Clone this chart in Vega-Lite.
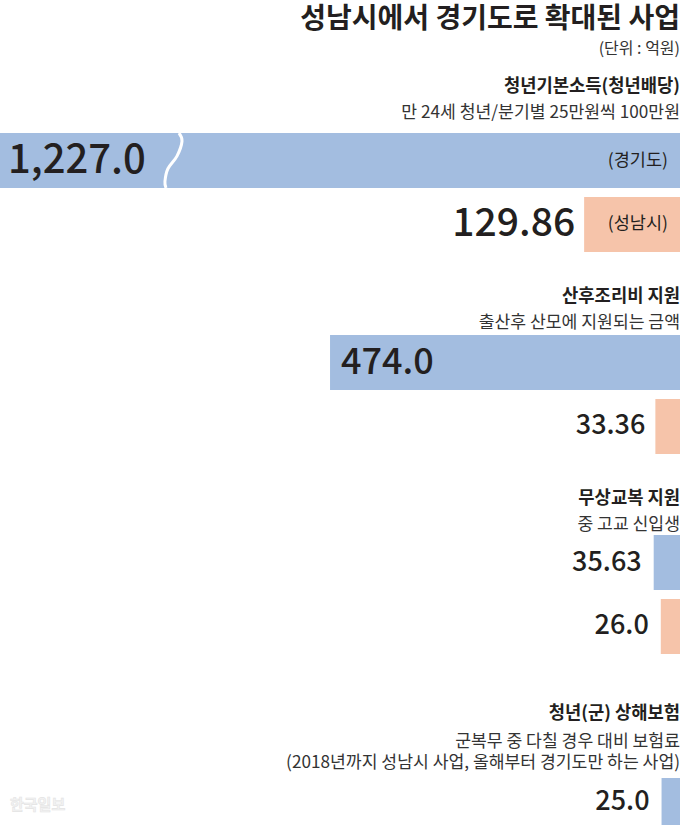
{
  "$schema": "https://vega.github.io/schema/vega-lite/v6.json",
  "padding": {"left": 0, "right": 0, "top": 6, "bottom": 0},
  "background": "white",
  "config": {
    "view": {"stroke": null},
    "font": "Noto Sans CJK KR",
    "title": {"font": "Noto Sans CJK KR", "subtitleFont": "Noto Sans CJK KR", "color": "#231f20", "subtitleColor": "#333333"}
  },
  "title": {
    "text": "성남시에서 경기도로 확대된 사업",
    "subtitle": "(단위 : 억원)",
    "anchor": "end",
    "fontSize": 28,
    "fontWeight": "bold",
    "subtitleFontSize": 16,
    "subtitlePadding": 7,
    "offset": 21
  },
  "datasets": {
    "bars": [
      {"section": "청년기본소득", "region": "경기도", "value": 1227.0, "label": "1,227.0", "tag": "(경기도)"},
      {"section": "청년기본소득", "region": "성남시", "value": 129.86, "label": "129.86", "tag": "(성남시)"},
      {"section": "산후조리비", "region": "경기도", "value": 474.0, "label": "474.0"},
      {"section": "산후조리비", "region": "성남시", "value": 33.36, "label": "33.36"},
      {"section": "무상교복", "region": "경기도", "value": 35.63, "label": "35.63"},
      {"section": "무상교복", "region": "성남시", "value": 26.0, "label": "26.0"},
      {"section": "상해보험", "region": "경기도", "value": 25.0, "label": "25.0"}
    ],
    "brk": [
      {"section": "청년기본소득", "order": 1, "bx": 678.6, "by": 1.0},
      {"section": "청년기본소득", "order": 2, "bx": 674.5, "by": 0.85},
      {"section": "청년기본소득", "order": 3, "bx": 681.3, "by": 0.58},
      {"section": "청년기본소득", "order": 4, "bx": 693.6, "by": 0.35},
      {"section": "청년기본소득", "order": 5, "bx": 697.6, "by": 0.12},
      {"section": "청년기본소득", "order": 6, "bx": 696.2, "by": 0.0}
    ]
  },
  "spacing": 51,
  "vconcat": [
    {
      "spacing": 36,
      "vconcat": [
        {
          "width": 680, "height": 119,
          "title": {"text": "청년기본소득(청년배당)", "subtitle": "만 24세 청년/분기별 25만원씩 100만원", "anchor": "end", "fontSize": 17.7, "fontWeight": "bold", "subtitleFontSize": 17.2, "subtitlePadding": 8, "offset": 6},
          "resolve": {"scale": {"y": "independent"}},
          "layer": [
            {
              "data": {"name": "bars"},
              "transform": [{"filter": "datum.section === '청년기본소득'"}],
              "encoding": {"y": {"field": "region", "type": "nominal", "sort": ["경기도", "성남시"], "axis": null, "scale": {"paddingInner": 0.14, "paddingOuter": 0}}},
              "layer": [
                {"mark": {"type": "bar"}, "encoding": {
                  "x": {"field": "value", "type": "quantitative", "scale": {"domain": [0, 921], "reverse": true, "clamp": true, "nice": false, "zero": true}, "axis": null},
                  "x2": {"datum": 0},
                  "color": {"field": "region", "type": "nominal", "scale": {"domain": ["경기도", "성남시"], "range": ["#a3bde0", "#f6c4aa"]}, "legend": null}}},
                {"transform": [{"filter": "datum.value > 300"}], "mark": {"type": "text", "align": "left", "dx": 8, "baseline": "middle", "fontWeight": 500, "fontSize": 40, "color": "#231f20"},
                  "encoding": {"x": {"field": "value", "type": "quantitative"}, "text": {"field": "label"}}},
                {"transform": [{"filter": "datum.value <= 300"}], "mark": {"type": "text", "align": "right", "dx": -9, "baseline": "middle", "fontWeight": 500, "fontSize": 39, "color": "#231f20"},
                  "encoding": {"x": {"field": "value", "type": "quantitative"}, "text": {"field": "label"}}},
                {"transform": [{"filter": "datum.tag"}], "mark": {"type": "text", "align": "right", "dx": -12, "baseline": "middle", "fontSize": 17.5, "color": "#231f20"},
                  "encoding": {"x": {"datum": 0}, "text": {"field": "tag"}}}
              ]
            },
            {"data": {"name": "brk"}, "mark": {"type": "line", "color": "white", "strokeWidth": 3, "interpolate": "cardinal"},
              "encoding": {
                "x": {"field": "bx", "type": "quantitative"},
                "y": {"field": "by", "type": "quantitative", "scale": {"domain": [-1.1636, 1], "nice": false, "zero": false}, "axis": null},
                "order": {"field": "order", "type": "quantitative"}}}
          ]
        },
        {
          "width": 680, "height": 119,
          "title": {"text": "산후조리비 지원", "subtitle": "출산후 산모에 지원되는 금액", "anchor": "end", "fontSize": 17.7, "fontWeight": "bold", "subtitleFontSize": 17.2, "subtitlePadding": 8, "offset": 4},
          "data": {"name": "bars"},
          "transform": [{"filter": "datum.section === '산후조리비'"}],
          "encoding": {"y": {"field": "region", "type": "nominal", "sort": ["경기도", "성남시"], "axis": null, "scale": {"paddingInner": 0.14, "paddingOuter": 0}}},
          "layer": [
            {"mark": {"type": "bar"}, "encoding": {
              "x": {"field": "value", "type": "quantitative", "scale": {"domain": [0, 921], "reverse": true, "clamp": true, "nice": false, "zero": true}, "axis": null},
              "x2": {"datum": 0},
              "color": {"field": "region", "type": "nominal", "scale": {"domain": ["경기도", "성남시"], "range": ["#a3bde0", "#f6c4aa"]}, "legend": null}}},
            {"transform": [{"filter": "datum.value > 300"}], "mark": {"type": "text", "align": "left", "dx": 11, "baseline": "middle", "fontWeight": 500, "fontSize": 36, "color": "#231f20"},
              "encoding": {"x": {"field": "value", "type": "quantitative"}, "text": {"field": "label"}}},
            {"transform": [{"filter": "datum.value <= 300"}], "mark": {"type": "text", "align": "right", "dx": -10, "baseline": "middle", "fontWeight": 500, "fontSize": 27, "color": "#231f20"},
              "encoding": {"x": {"field": "value", "type": "quantitative"}, "text": {"field": "label"}}}
          ]
        },
        {
          "width": 680, "height": 119,
          "title": {"text": "무상교복 지원", "subtitle": "중 고교 신입생", "anchor": "end", "fontSize": 17.7, "fontWeight": "bold", "subtitleFontSize": 17.2, "subtitlePadding": 8, "offset": 2},
          "data": {"name": "bars"},
          "transform": [{"filter": "datum.section === '무상교복'"}],
          "encoding": {"y": {"field": "region", "type": "nominal", "sort": ["경기도", "성남시"], "axis": null, "scale": {"paddingInner": 0.14, "paddingOuter": 0}}},
          "layer": [
            {"mark": {"type": "bar"}, "encoding": {
              "x": {"field": "value", "type": "quantitative", "scale": {"domain": [0, 921], "reverse": true, "clamp": true, "nice": false, "zero": true}, "axis": null},
              "x2": {"datum": 0},
              "color": {"field": "region", "type": "nominal", "scale": {"domain": ["경기도", "성남시"], "range": ["#a3bde0", "#f6c4aa"]}, "legend": null}}},
            {"mark": {"type": "text", "align": "right", "dx": -12, "baseline": "middle", "fontWeight": 500, "fontSize": 27, "color": "#231f20"},
              "encoding": {"x": {"field": "value", "type": "quantitative"}, "text": {"field": "label"}}}
          ]
        }
      ]
    },
    {
      "width": 680, "height": 47,
      "title": {"text": "청년(군) 상해보험", "subtitle": ["군복무 중 다칠 경우 대비 보험료", "(2018년까지 성남시 사업, 올해부터 경기도만 하는 사업)"], "anchor": "end", "fontSize": 17.7, "fontWeight": "bold", "subtitleFontSize": 17.2, "subtitleLineHeight": 21, "subtitlePadding": 10, "offset": 7},
      "data": {"name": "bars"},
      "transform": [{"filter": "datum.section === '상해보험'"}],
      "encoding": {"y": {"field": "region", "type": "nominal", "axis": null, "scale": {"paddingInner": 0, "paddingOuter": 0}}},
      "layer": [
        {"mark": {"type": "bar"}, "encoding": {
          "x": {"field": "value", "type": "quantitative", "scale": {"domain": [0, 921], "reverse": true, "clamp": true, "nice": false, "zero": true}, "axis": null},
          "x2": {"datum": 0},
          "color": {"field": "region", "type": "nominal", "scale": {"domain": ["경기도", "성남시"], "range": ["#a3bde0", "#f6c4aa"]}, "legend": null}}},
        {"mark": {"type": "text", "align": "right", "dx": -12, "baseline": "middle", "fontWeight": 500, "fontSize": 27, "color": "#231f20"},
          "encoding": {"x": {"field": "value", "type": "quantitative"}, "text": {"field": "label"}}},
        {"mark": {"type": "text", "align": "left", "dx": 10, "baseline": "middle", "dy": 3, "text": "한국일보", "fontSize": 15, "fontWeight": "bold", "color": "#f3f3f3", "stroke": "#e4e4e4", "strokeWidth": 0.6},
          "encoding": {"x": {"datum": 921}, "y": {"datum": "경기도"}}}
      ]
    }
  ]
}
